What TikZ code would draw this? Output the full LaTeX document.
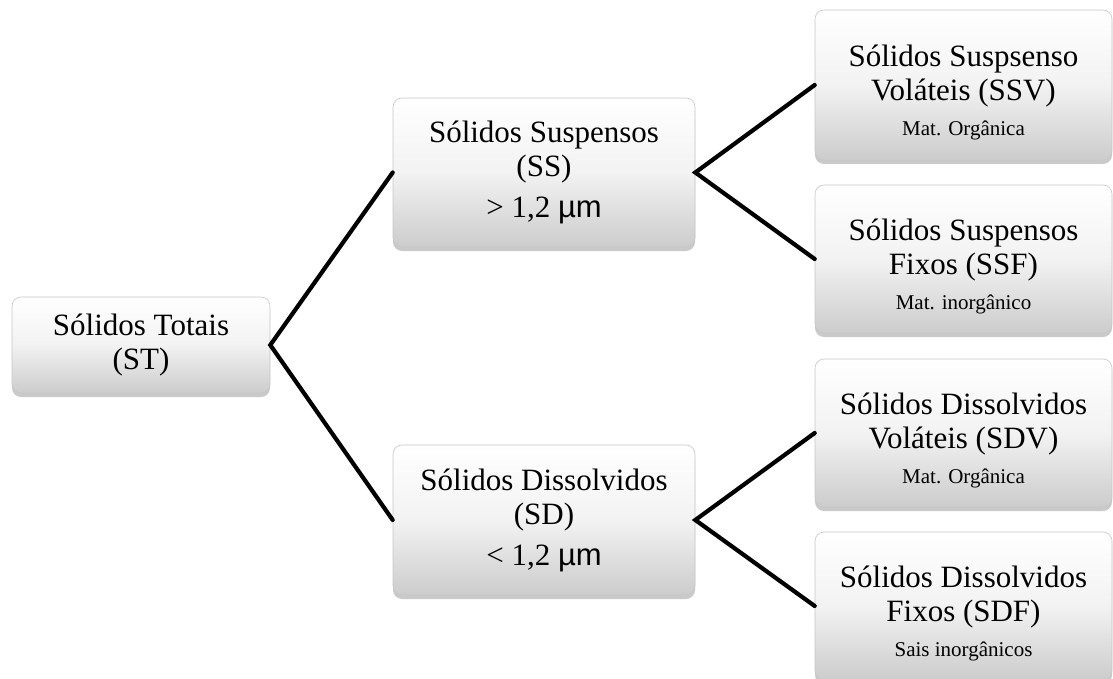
\documentclass[tikz,border=0pt]{standalone}
\usepackage{fontspec}
\setmainfont{Liberation Serif}
\newfontfamily\armu{Liberation Sans}
\usetikzlibrary{shadows}
\tikzset{
  box/.style={rectangle, rounded corners=9pt, draw=gray!45, line width=0.6pt,
    top color=white, bottom color=gray!40, middle color=gray!10,
    drop shadow={shadow xshift=0pt, shadow yshift=-4pt, opacity=0.35, fill=gray!80!black},
    align=center, inner sep=2pt, font=\fontsize{31}{34}\selectfont},
  conn/.style={line width=4.2pt, black, line cap=round}
}
\newcommand{\smalltxt}[1]{{\fontsize{21}{24}\selectfont #1}}
\newcommand{\downstrut}{\rule{0pt}{36pt}}
\begin{document}
\begin{tikzpicture}[x=1pt,y=-1pt]
\useasboundingbox (0,0) rectangle (1113,679);
\node[box, minimum width=258pt, minimum height=96pt] (st) at (141,345) {Sólidos Totais\\(ST)};
\node[box, minimum width=302pt, minimum height=149pt] (ss) at (544,172.5) {Sólidos Suspensos\\(SS)\\[7pt]> 1,2 {\armu µm}};
\node[box, minimum width=302pt, minimum height=150pt] (sd) at (544,520) {Sólidos Dissolvidos\\(SD)\\[7pt]< 1,2 {\armu µm}};
\node[box, minimum width=297pt, minimum height=150pt] (ssv) at (963.5,85) {\downstrut Sólidos Suspsenso\\Voláteis (SSV)\\[1pt]\smalltxt{Mat. Orgânica}};
\node[box, minimum width=297pt, minimum height=148pt] (ssf) at (963.5,259) {\downstrut Sólidos Suspensos\\Fixos (SSF)\\[1pt]\smalltxt{Mat. inorgânico}};
\node[box, minimum width=297pt, minimum height=148pt] (sdv) at (963.5,433) {\downstrut Sólidos Dissolvidos\\Voláteis (SDV)\\[1pt]\smalltxt{Mat. Orgânica}};
\node[box, minimum width=297pt, minimum height=148pt] (sdf) at (963.5,606) {\downstrut Sólidos Dissolvidos\\Fixos (SDF)\\[1pt]\smalltxt{Sais inorgânicos}};
\draw[conn] (ss.west) -- (st.east) -- (sd.west);
\draw[conn] (ssv.west) -- (ss.east) -- (ssf.west);
\draw[conn] (sdv.west) -- (sd.east) -- (sdf.west);
\end{tikzpicture}
\end{document}
